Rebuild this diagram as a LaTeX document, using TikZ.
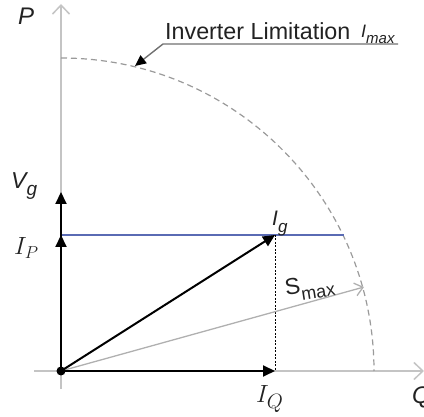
\documentclass[tikz,border=0pt]{standalone}
\usepackage{fontspec}
\newfontfamily\arialf{Liberation Sans}
\usetikzlibrary{arrows.meta}
\definecolor{axisgray}{HTML}{C4C4C4}
\definecolor{limitgray}{HTML}{9A9A9A}
\definecolor{pointgray}{HTML}{707070}
\definecolor{smaxgray}{HTML}{B0B0B0}
\definecolor{bluel}{HTML}{5A6BB4}
\definecolor{labelgray}{HTML}{222222}
\newcommand{\fsz}[1]{\fontsize{#1}{#1}\selectfont}
\newcommand{\lowsub}[2]{\raisebox{-0.3em}{\fsz{#1}#2}}
\begin{document}
\begin{tikzpicture}[x=1pt,y=1pt,
  axis/.style={draw=axisgray,line width=1.5pt,-{Straight Barb[length=9pt,width=17pt,line width=1.5pt]}},
  limit/.style={draw=limitgray,line width=1.2pt,dash pattern=on 6pt off 4pt},
  vec/.style={draw=black,line width=2pt,-{Triangle[length=12pt,width=11pt]}},
  blueline/.style={draw=bluel,line width=2.5pt},
  dotline/.style={draw=black,line width=1pt,dash pattern=on 2pt off 1.5pt},
  smaxarrow/.style={draw=smaxgray,line width=1.3pt,-{Straight Barb[length=8pt,width=13pt,line width=1.3pt]}},
  pointer/.style={draw=pointgray,line width=1.4pt,-{Triangle[length=11pt,width=10pt,fill=black,color=black]}},
  lbl/.style={inner sep=0pt,text=labelgray},
]
\useasboundingbox (0,0) rectangle (424,-417);
% axes
\coordinate (O) at (61,-371);
\coordinate (Pbot) at (61,-389);
\coordinate (Ptop) at (61,-4);
\coordinate (Qleft) at (34,-371);
\coordinate (Qright) at (424,-371);
\draw[axis] (Pbot) -- (Ptop);
\draw[axis] (Qleft) -- (Qright);
% limitation circle
\coordinate (Ctop) at (61,-58);
\draw[limit] (Ctop) arc[start angle=90,end angle=0,radius=313];
% key points
\coordinate (Ig) at (275,-235);
\coordinate (IQ) at (275,-371);
\coordinate (IP) at (61,-235);
\coordinate (Vg) at (61,-192);
\coordinate (Bend) at (344,-235);
\coordinate (Smax) at (364,-287);
\draw[blueline] (IP) -- (Bend);
\draw[dotline] (Ig) -- (IQ);
\draw[smaxarrow] (O) -- (Smax);
\draw[vec] (O) -- (Vg);
\draw[vec] (O) -- (IP);
\draw[vec] (O) -- (Ig);
\draw[vec] (O) -- (IQ);
\fill[black] (O) circle[radius=4.5];
% pointer to the circle
\coordinate (UR) at (398,-44);
\coordinate (UL) at (163,-44);
\coordinate (Atip) at (135,-66);
\draw[pointer] (UR) -- (UL) -- (Atip);
% labels
\node[lbl,anchor=base west,font=\arialf\fsz{23.3}] (inv) at (165,-40) {Inverter Limitation};
\node[lbl,anchor=base west,font=\arialf\itshape\fsz{18}] (imax) at (361,-38) {I\lowsub{15}{max}};
\node[lbl,anchor=base west,font=\arialf\itshape\fsz{24}] (plab) at (18,-25) {P};
\node[lbl,anchor=base west,font=\arialf\itshape\fsz{24}] (qlab) at (412,-404) {Q};
\node[lbl,anchor=base west,font=\arialf\itshape\fsz{23}] (vglab) at (11,-189) {V\lowsub{19}{g}};
\node[lbl,anchor=base west,font=\arialf\itshape\fsz{21}] (iglab) at (272,-226) {I\lowsub{17}{g}};
\node[lbl,anchor=base west,rotate=9,font=\arialf\fsz{23}] (smlab) at (286,-296) {S\lowsub{18}{max}};
\node[lbl,anchor=base west,font=\fsz{26}] (iplab) at (14,-255) {$I_P$};
\node[lbl,anchor=base west,font=\fsz{28}] (iqlab) at (256,-403) {$I_Q$};
\end{tikzpicture}
\end{document}
